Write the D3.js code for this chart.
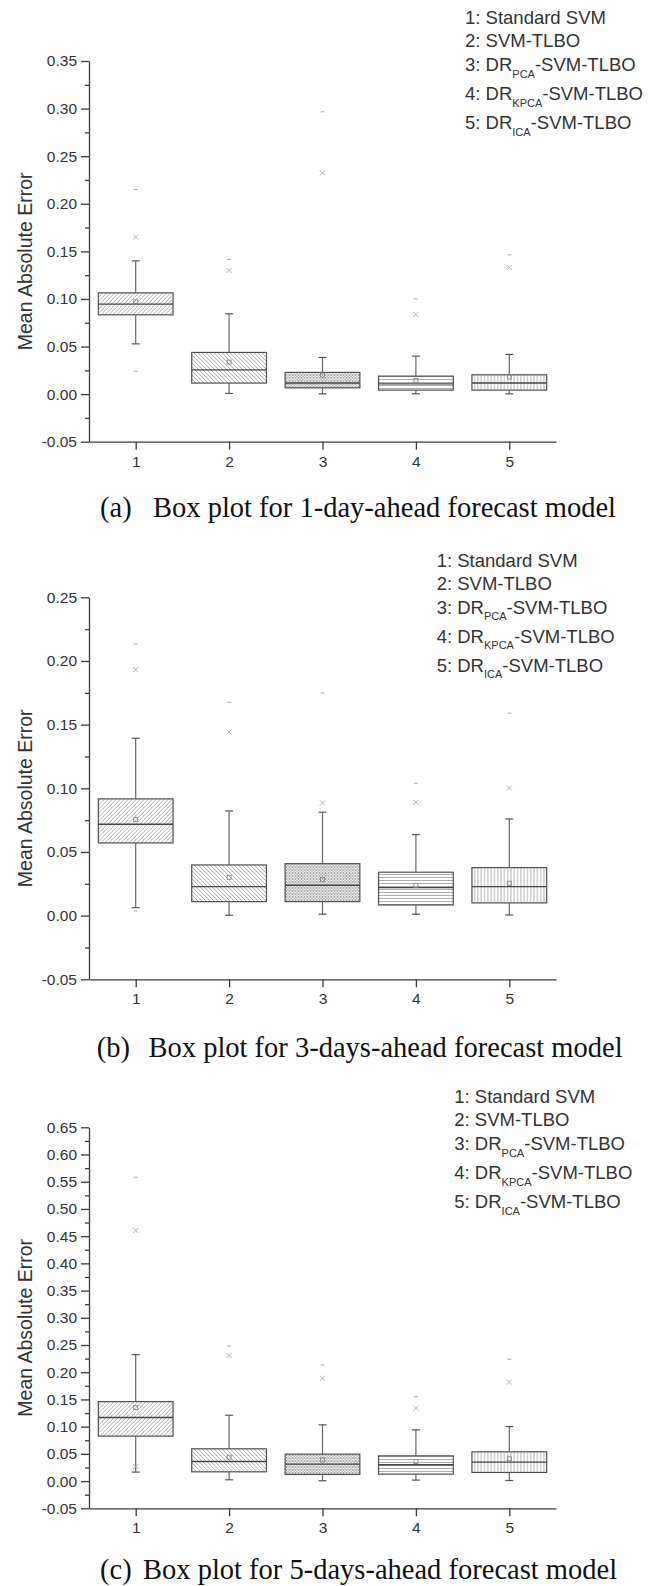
<!DOCTYPE html>
<html lang="en">
<head>
  <meta charset="UTF-8">
  <title>Box plots: MAE of forecast models</title>
  <script src="https://d3js.org/d3.v7.min.js"></script>
  <style>
    body { margin: 0; background: #fff; }
    svg { display: block; }
    .axis path, .axis line { stroke: #3a3a3a; stroke-width: 1.3px; }
    .axis text { fill: #333; font-family: "Liberation Sans", Arial, sans-serif; font-size: 15.5px; }
    .legend text { fill: #333; font-family: "Liberation Sans", Arial, sans-serif; }
    .ytitle { fill: #333; font-family: "Liberation Sans", Arial, sans-serif; font-size: 19.5px; }
    .caption { fill: #111; font-family: "Liberation Serif", "Times New Roman", serif; font-size: 28.5px; }
  </style>
</head>
<body>
<svg id="chart" width="660" height="1586"></svg>
<script>
  // categories and legend
  const cats = [1, 2, 3, 4, 5];
  const legendItems = [
    ["1: Standard SVM", "", ""],
    ["2: SVM-TLBO", "", ""],
    ["3: DR", "PCA", "-SVM-TLBO"],
    ["4: DR", "KPCA", "-SVM-TLBO"],
    ["5: DR", "ICA", "-SVM-TLBO"]
  ];

  // (a) 1-day-ahead
  const a_q1   = [0.0833, 0.0116, 0.0066, 0.0042, 0.0042];
  const a_med  = [0.0945, 0.0255, 0.0116, 0.0108, 0.0116];
  const a_q3   = [0.1064, 0.0438, 0.0228, 0.0189, 0.0203];
  const a_mean = [0.0970, 0.0336, 0.0200, 0.0144, 0.0179];
  const a_lo   = [0.0528, 0.0007, 0.0003, 0.0003, 0.0003];
  const a_hi   = [0.1400, 0.0844, 0.0385, 0.0399, 0.0417];
  const a_x    = [[0.165], [0.130], [0.2325], [0.0837], [0.133]];
  const a_dash = [[0.215, 0.024], [0.1415], [0.2966], [0.1001], [0.1463]];
  const a_ticks = [-0.05, 0.00, 0.05, 0.10, 0.15, 0.20, 0.25, 0.30, 0.35];

  // (b) 3-days-ahead
  const b_q1   = [0.0571, 0.0110, 0.0110, 0.0084, 0.0100];
  const b_med  = [0.0718, 0.0228, 0.0239, 0.0220, 0.0228];
  const b_q3   = [0.0917, 0.0398, 0.0408, 0.0341, 0.0377];
  const b_mean = [0.0754, 0.0301, 0.0283, 0.0236, 0.0254];
  const b_lo   = [0.0063, 0.0003, 0.0011, 0.0011, 0.0005];
  const b_hi   = [0.1393, 0.0822, 0.0812, 0.0636, 0.0759];
  const b_x    = [[0.1932], [0.1443], [0.0885], [0.089], [0.1003]];
  const b_dash = [[0.2134, 0.0037], [0.1676], [0.1749], [0.104], [0.159]];
  const b_ticks = [-0.05, 0.00, 0.05, 0.10, 0.15, 0.20, 0.25];

  // (c) 5-days-ahead
  const c_q1   = [0.0826, 0.0170, 0.0122, 0.0128, 0.0158];
  const c_med  = [0.1167, 0.0360, 0.0312, 0.0299, 0.0349];
  const c_q3   = [0.1460, 0.0593, 0.0495, 0.0464, 0.0538];
  const c_mean = [0.1350, 0.0440, 0.0390, 0.0360, 0.0410];
  const c_lo   = [0.0165, 0.0024, 0.0006, 0.0018, 0.0011];
  const c_hi   = [0.2323, 0.1210, 0.1033, 0.0941, 0.1002];
  const c_x    = [[0.4605, 0.0268], [0.2305], [0.189], [0.134], [0.1817]];
  const c_dash = [[0.5583], [0.248], [0.2134], [0.155], [0.2239]];
  const c_ticks = [-0.05, 0.00, 0.05, 0.10, 0.15, 0.20, 0.25, 0.30, 0.35, 0.40, 0.45, 0.50, 0.55, 0.60, 0.65];

  const svg = d3.select("#chart");

  // hatch patterns, one per model
  const defs = svg.append("defs");
  const hatch = "#8a8a8a";
  function pattern(id, w, h, d) {
    const p = defs.append("pattern").attr("id", id)
      .attr("patternUnits", "userSpaceOnUse").attr("width", w).attr("height", h);
    p.append("rect").attr("width", w).attr("height", h).attr("fill", "#fff");
    p.append("path").attr("d", d).attr("stroke", hatch).attr("stroke-width", 0.7).attr("fill", "none");
  }
  pattern("h1", 4, 4, "M-1,1 l2,-2 M0,4 l4,-4 M3,5 l2,-2");
  pattern("h2", 4, 4, "M-1,3 l2,2 M0,0 l4,4 M3,-1 l2,2");
  pattern("h3", 3, 3, "M-1,1 l2,-2 M0,3 l3,-3 M2,4 l2,-2 M-1,2 l2,2 M0,0 l3,3 M2,-1 l2,2");
  pattern("h4", 3, 3, "M0,1.5 H3");
  pattern("h5", 3.3, 3, "M1.65,0 V3");
  const fills = ["url(#h1)", "url(#h2)", "url(#h3)", "url(#h4)", "url(#h5)"];

  const x = d3.scaleLinear().domain([0.5, 5.5]).range([89, 556]);
  const fmt = v => (v < 0 ? "-" : "") + Math.abs(v).toFixed(2);

  function drawPanel(cfg) {
    const y = d3.scaleLinear().domain([cfg.ticks[0], cfg.ticks[cfg.ticks.length - 1]])
      .range([cfg.bottom, cfg.top]);
    const g = svg.append("g");

    // minor ticks
    const minors = cfg.ticks.slice(0, -1).map(t => +(t + 0.025).toFixed(3));
    g.append("g").attr("class", "axis")
      .attr("transform", `translate(${x(0.5)},0)`)
      .call(d3.axisLeft(y).tickValues(minors).tickSize(4).tickSizeOuter(0).tickFormat(""))
      .select(".domain").remove();

    g.append("g").attr("class", "axis")
      .attr("transform", `translate(${x(0.5)},0)`)
      .call(d3.axisLeft(y).tickValues(cfg.ticks).tickSize(8).tickSizeOuter(0).tickPadding(4).tickFormat(fmt));

    g.append("g").attr("class", "axis")
      .attr("transform", `translate(0,${cfg.bottom})`)
      .call(d3.axisBottom(x).tickValues(cats).tickSize(8).tickSizeOuter(0).tickPadding(6).tickFormat(d3.format("d")));

    const bw = (x(1) - x(0.5)) * 0.8;
    const boxes = g.append("g").selectAll("g").data(cats).join("g")
      .attr("transform", d => `translate(${x(d)},0)`);

    // whiskers
    boxes.append("line")
      .attr("y1", (d, i) => y(cfg.hi[i])).attr("y2", (d, i) => y(cfg.q3[i]))
      .attr("stroke", "#666").attr("stroke-width", 1.2);
    boxes.append("line")
      .attr("y1", (d, i) => y(cfg.lo[i])).attr("y2", (d, i) => y(cfg.q1[i]))
      .attr("stroke", "#666").attr("stroke-width", 1.2);
    [cfg.hi, cfg.lo].forEach(arr => {
      boxes.append("line")
        .attr("x1", -4).attr("x2", 4)
        .attr("y1", (d, i) => y(arr[i])).attr("y2", (d, i) => y(arr[i]))
        .attr("stroke", "#555").attr("stroke-width", 1.2);
    });

    // box
    boxes.append("rect")
      .attr("x", -bw).attr("width", bw * 2)
      .attr("y", (d, i) => y(cfg.q3[i]))
      .attr("height", (d, i) => y(cfg.q1[i]) - y(cfg.q3[i]))
      .attr("fill", (d, i) => fills[i])
      .attr("stroke", "#505050").attr("stroke-width", 1.2);
    boxes.append("line")
      .attr("x1", -bw).attr("x2", bw)
      .attr("y1", (d, i) => y(cfg.med[i])).attr("y2", (d, i) => y(cfg.med[i]))
      .attr("stroke", "#444").attr("stroke-width", 1.4);

    // mean
    boxes.append("rect")
      .attr("x", -2).attr("width", 4).attr("height", 4)
      .attr("y", (d, i) => y(cfg.mean[i]) - 2)
      .attr("fill", "none").attr("stroke", "#888").attr("stroke-width", 0.9);

    // 1%/99% crosses and min/max dashes
    boxes.each(function (d, i) {
      const b = d3.select(this);
      b.selectAll(".cross").data(cfg.crosses[i]).join("path").attr("class", "cross")
        .attr("d", v => `M-2.5,${y(v) - 2.5} l5,5 M2.5,${y(v) - 2.5} l-5,5`)
        .attr("stroke", "#aaa").attr("stroke-width", 0.9);
      b.selectAll(".dash").data(cfg.dashes[i]).join("line").attr("class", "dash")
        .attr("x1", -2).attr("x2", 2)
        .attr("y1", v => y(v)).attr("y2", v => y(v))
        .attr("stroke", "#aaa").attr("stroke-width", 1);
    });

    // y title
    const mid = (cfg.top + cfg.bottom) / 2 + 10;
    g.append("text").attr("class", "ytitle")
      .attr("transform", `translate(31.5,${mid}) rotate(-90)`)
      .attr("text-anchor", "middle")
      .text("Mean Absolute Error");

    // legend
    const rowOff = [0, 23, 47, 76, 105];
    const leg = g.append("g").attr("class", "legend");
    legendItems.forEach((it, i) => {
      const t = leg.append("text")
        .attr("x", cfg.legendX).attr("y", cfg.legendY + rowOff[i])
        .style("font-size", "18.5px");
      t.append("tspan").text(it[0]);
      if (it[1]) {
        t.append("tspan").text(it[1]).style("font-size", "11px").attr("dy", 6.5);
        t.append("tspan").text(it[2]).attr("dy", -6.5);
      }
    });

    // caption
    const cap = g.append("text").attr("class", "caption").attr("y", cfg.capY);
    cap.append("tspan").attr("x", cfg.capX[0]).text(cfg.caption[0]);
    cap.append("tspan").attr("x", cfg.capX[1]).text(cfg.caption[1]);
  }

  drawPanel({
    top: 61, bottom: 441.7, ticks: a_ticks,
    q1: a_q1, med: a_med, q3: a_q3, mean: a_mean, lo: a_lo, hi: a_hi, crosses: a_x, dashes: a_dash,
    legendX: 465, legendY: 24,
    capY: 517, capX: [100, 153], caption: ["(a)", "Box plot for 1-day-ahead forecast model"]
  });
  drawPanel({
    top: 597.3, bottom: 979.3, ticks: b_ticks,
    q1: b_q1, med: b_med, q3: b_q3, mean: b_mean, lo: b_lo, hi: b_hi, crosses: b_x, dashes: b_dash,
    legendX: 436.7, legendY: 566.7,
    capY: 1057, capX: [96.7, 148.5], caption: ["(b)", "Box plot for 3-days-ahead forecast model"]
  });
  drawPanel({
    top: 1127.3, bottom: 1508.3, ticks: c_ticks,
    q1: c_q1, med: c_med, q3: c_q3, mean: c_mean, lo: c_lo, hi: c_hi, crosses: c_x, dashes: c_dash,
    legendX: 454.3, legendY: 1103.3,
    capY: 1579, capX: [100, 143], caption: ["(c)", "Box plot for 5-days-ahead forecast model"]
  });
</script>
</body>
</html>
